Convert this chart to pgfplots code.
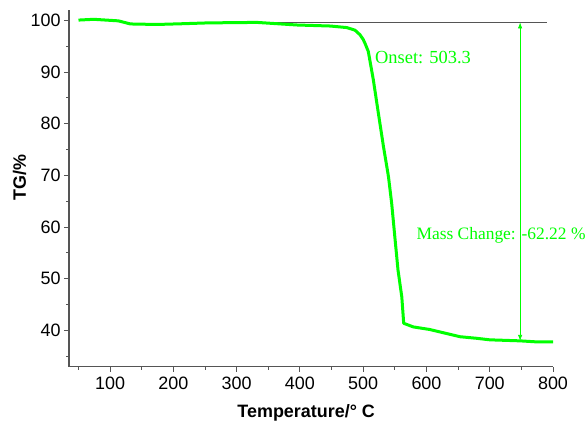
\documentclass[border=0pt]{standalone}
\usepackage{fontspec}
\setmainfont{Liberation Sans}
\newfontfamily\timesf{Liberation Serif}
\usepackage{pgfplots}
\pgfplotsset{compat=1.18}
\usetikzlibrary{arrows.meta}
\definecolor{tgreen}{RGB}{0,255,0}
\definecolor{axgray}{RGB}{85,85,85}
\begin{document}
\begin{tikzpicture}[x=1bp,y=1bp]
\useasboundingbox (0,0) rectangle (587,422);
\begin{axis}[
  at={(69bp,55.3bp)}, anchor=south west,
  scale only axis, width=484bp, height=356.7bp,
  xmin=35, xmax=800, ymin=33, ymax=102,
  axis x line*=bottom, axis y line*=left,
  axis line style={axgray, line width=1.3bp},
  xtick={100,200,...,800}, minor xtick={50,150,...,750},
  ytick={40,50,...,100}, minor ytick={35,45,...,95},
  tick align=outside, major tick length=5bp, minor tick length=3bp,
  tick style={axgray, line width=1bp},
  every tick label/.append style={font=\fontsize{18}{20}\selectfont, text=black},
  xticklabel style={yshift=-2bp},
  /pgf/number format/assume math mode=true,
  xlabel={\bfseries Temperature/° C},
  ylabel={\bfseries TG/\%},
  xlabel style={font=\fontsize{18}{20}\selectfont, at={(axis description cs:0.49,-0.1382)}, anchor=base, yshift=-1bp, inner sep=0pt},
  ylabel style={font=\fontsize{18}{20}\selectfont, at={(axis description cs:-0.1023,0.53)}, anchor=center},
  clip=false,
]
\draw[axgray, line width=1bp] (axis cs:237,99.6) -- (axis cs:790,99.6);
\addplot[tgreen, line width=3bp, line join=round] coordinates {
(50,100.05) (74,100.2) (100,100.0) (113,99.9) (132,99.3) (174,99.2) (216,99.35)
(253,99.5) (290,99.55) (332,99.6) (395,99.1) (448,98.9) (474,98.6) (487,98.1)
(495,97.2) (500,96.3) (503,95.5) (508,94.0) (516,88.5) (524,82.0) (532,75.6)
(540,69.7) (545,64.6) (550,58.1) (555,51.7) (561,46.5) (564,41.4) (579,40.7)
(605,40.2) (653,38.8) (679,38.5) (700,38.2) (748,38.0) (774,37.8) (800,37.8)
};
\draw[tgreen, line width=0.8bp, {Latex[length=6bp,width=4.5bp]}-{Latex[length=6bp,width=4.5bp]}] (axis cs:748,99.6) -- (axis cs:748,38.0);
\node[anchor=west, text=tgreen, font=\timesf\fontsize{18.5}{20}\selectfont, inner sep=0pt] at (axis cs:518.6,92.9) {Onset: 503.3};
\node[anchor=west, text=tgreen, font=\timesf\fontsize{17.5}{20}\selectfont, inner sep=0pt] at (axis cs:584,58.5) {Mass Change: -62.22 \%};
\end{axis}
\end{tikzpicture}
\end{document}
